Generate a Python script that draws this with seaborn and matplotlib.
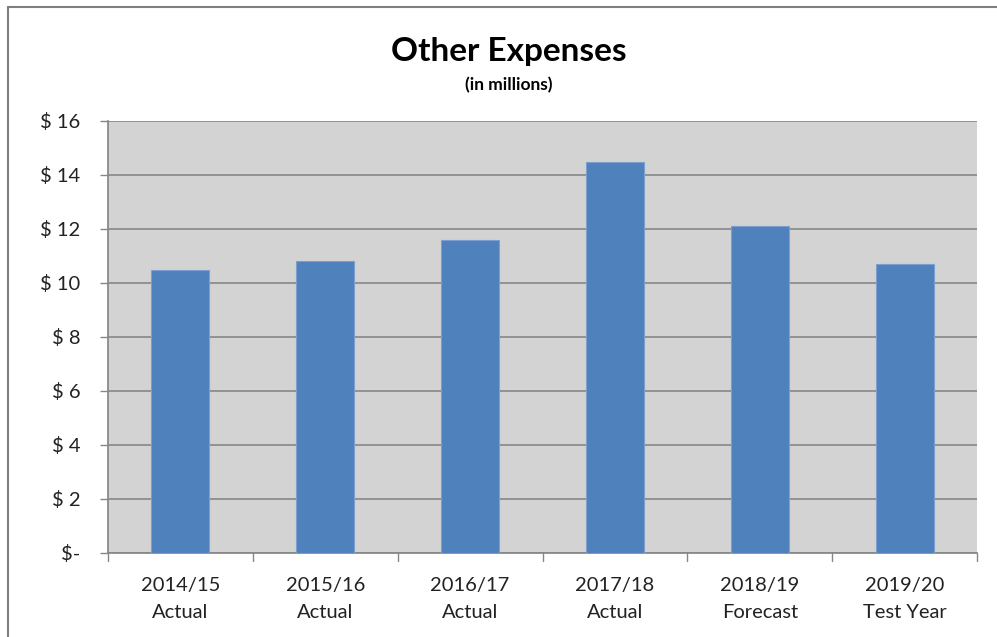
import matplotlib
matplotlib.use("Agg")
import matplotlib.pyplot as plt
import seaborn as sns
import pandas as pd
from matplotlib.lines import Line2D

categories = ["2014/15\nActual", "2015/16\nActual", "2016/17\nActual",
              "2017/18\nActual", "2018/19\nForecast", "2019/20\nTest Year"]
values = [10.5, 10.8, 11.6, 14.5, 12.1, 10.7]
yticks = [0, 2, 4, 6, 8, 10, 12, 14, 16]
ytick_labels = ["$-", "$ 2", "$ 4", "$ 6", "$ 8", "$ 10", "$ 12", "$ 14", "$ 16"]
title = "Other Expenses"
subtitle = "(in millions)"

sns.set_theme(style="white")
plt.rcParams['font.family'] = ['Lato', 'DejaVu Sans']

df = pd.DataFrame({"cat": categories, "val": values})

fig = plt.figure(figsize=(9.97, 6.37), dpi=100)
W, H = 997, 637
ax = fig.add_axes([108 / W, 1 - 553 / H, (977 - 108) / W, (553 - 121) / H])
ax.set_facecolor("#D3D3D3")

sns.barplot(data=df, x="cat", y="val", ax=ax, color="#4F81BD", width=0.4,
            saturation=1, edgecolor="#7D9FCF", linewidth=0.8, zorder=3)

ax.set_ylim(0, 16)
ax.set_xlim(-0.5, len(categories) - 0.5)
ax.set_yticks(yticks)
ax.set_yticklabels(ytick_labels, fontsize=14.5, color="#222222")
ax.tick_params(axis="y", length=6, width=1, color="#878787", pad=14, left=True)
for lbl in ax.get_yticklabels():
    lbl.set_horizontalalignment("right")
ax.set_xticks(range(len(categories)))
ax.set_xticklabels(categories, fontsize=14.5, color="#222222", linespacing=1.75)
ax.tick_params(axis="x", length=0, pad=17)
for i in range(len(categories) + 1):
    ax.plot([i - 0.5, i - 0.5], [0, -0.3], color="#878787", lw=1,
            clip_on=False, zorder=4)
ax.set_xlabel("")
ax.set_ylabel("")
ax.grid(axis="y", color="#878787", linewidth=1.2, zorder=0)
ax.set_axisbelow(True)
for s in ["top", "right"]:
    ax.spines[s].set_visible(False)
ax.spines["left"].set_color("#878787")
ax.spines["bottom"].set_color("#878787")

fig.text(509 / W, 1 - 51 / H, title, ha="center", va="center",
         fontsize=24, fontweight="bold", color="black")
fig.text(509 / W, 1 - 85 / H, subtitle, ha="center", va="center",
         fontsize=12.5, fontweight="bold", color="black")

fig.add_artist(Line2D([8 / W, 8 / W], [0, 1 - 7 / H], color="#7F7F7F", lw=1.5,
                      transform=fig.transFigure))
fig.add_artist(Line2D([8 / W, 1], [1 - 7 / H, 1 - 7 / H], color="#7F7F7F", lw=1.5,
                      transform=fig.transFigure))

fig.savefig("out.png", dpi=100, facecolor="white")
